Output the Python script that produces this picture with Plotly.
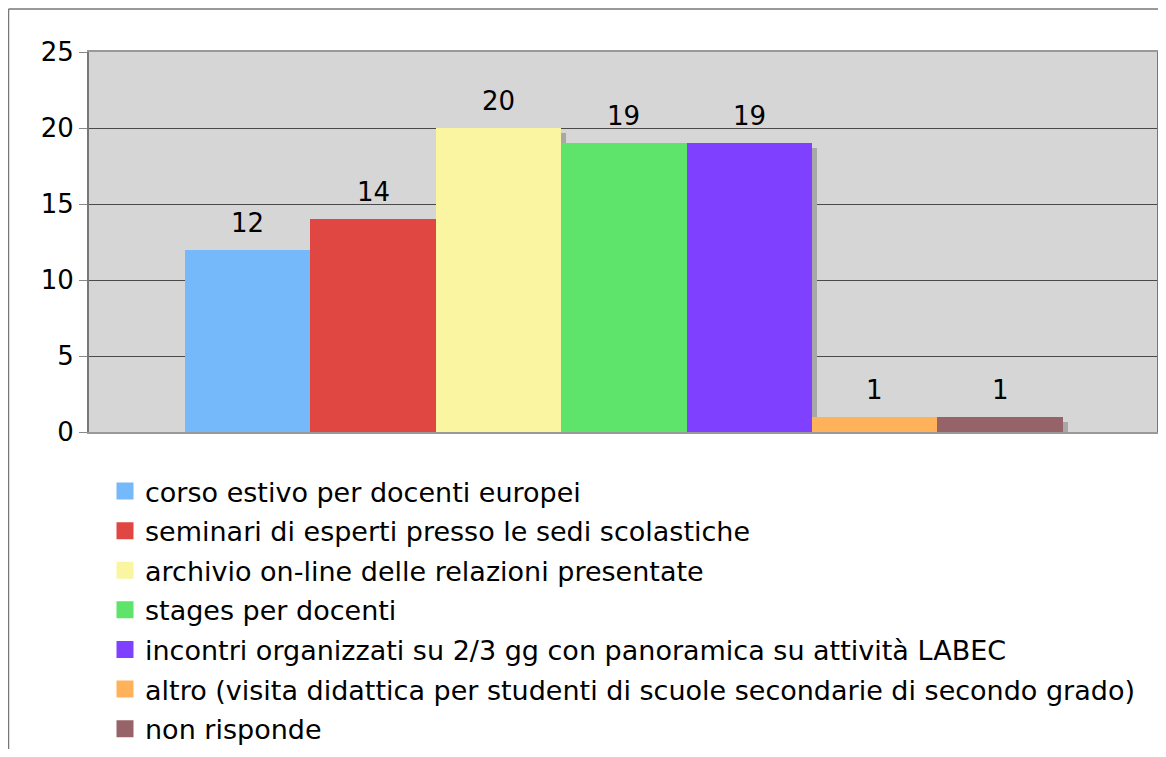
import plotly.graph_objects as go

categories = [
    "corso estivo per docenti europei",
    "seminari di esperti presso le sedi scolastiche",
    "archivio on-line delle relazioni presentate",
    "stages per docenti",
    "incontri organizzati su 2/3 gg con panoramica su attività LABEC",
    "altro (visita didattica per studenti di scuole secondarie di secondo grado)",
    "non risponde",
]
values = [12, 14, 20, 19, 19, 1, 1]
colors = ["#76B9FA", "#E04642", "#FAF5A0", "#5EE46A", "#8040FF", "#FFB25A", "#966468"]
y_ticks = [0, 5, 10, 15, 20, 25]

FONT = "DejaVu Sans, Verdana, sans-serif"
# page has an 8px body margin; figure sized to fit exactly
W, H = 1150, 741
ML, MR, MT, MB = 81, 1, 44, 317
plot_w = W - ML - MR
plot_h = H - MT - MB
bar_px = 125.4
units_w = plot_w / bar_px
left_units = (177 - ML) / bar_px
x_range = [-0.5 - left_units, -0.5 - left_units + units_w]
y_per_px = 25 / plot_h
x_per_px = 1 / bar_px
shadow_off = 5

fig = go.Figure()
xs = list(range(len(values)))

# shadows
fig.add_trace(go.Bar(
    x=[i + shadow_off * x_per_px for i in xs],
    y=[v - shadow_off * y_per_px for v in values],
    width=1, marker=dict(color="#A8A8A8", line=dict(width=0)),
    showlegend=False, hoverinfo="skip",
))
# bars
for i, (c, v, col) in enumerate(zip(categories, values, colors)):
    fig.add_trace(go.Bar(
        x=[i], y=[v], width=1, name=c,
        marker=dict(color=col, line=dict(width=0)),
        showlegend=False,
    ))
# legend entries
for i, (c, col) in enumerate(zip(categories, colors)):
    fig.add_trace(go.Bar(
        x=[None], y=[None], name=c, legendgroup=f"g{i}",
        marker=dict(color=col, line=dict(color=col, width=8)),
        showlegend=True,
    ))

for i, v in enumerate(values):
    fig.add_annotation(x=i, y=v, text=str(v), showarrow=False,
                       yanchor="bottom", yshift=10,
                       font=dict(family=FONT, size=26, color="#000000"))

border_x = (0.5 - ML) / plot_w
border_y = 1 + (MT - 1) / plot_h
fig.add_shape(type="line", xref="paper", yref="paper",
              x0=border_x, x1=1.2, y0=border_y, y1=border_y,
              line=dict(color="#777777", width=1.5))
fig.add_shape(type="line", xref="paper", yref="paper",
              x0=border_x, x1=border_x, y0=-1.2, y1=border_y,
              line=dict(color="#777777", width=1.5))

fig.update_layout(
    width=W, height=H,
    margin=dict(l=ML, r=MR, t=MT, b=MB, autoexpand=False),
    paper_bgcolor="white", plot_bgcolor="#D6D6D6",
    barmode="overlay", bargap=0,
    font=dict(family=FONT, size=26, color="#000000"),
    xaxis=dict(range=x_range, showticklabels=False, showgrid=False, zeroline=False,
               showline=True, linecolor="#999999", linewidth=2, mirror=True, ticks=""),
    yaxis=dict(range=[0, 25], tickvals=y_ticks, showgrid=True, gridcolor="#4A4A4A", gridwidth=1,
               zeroline=False, showline=True, linecolor="#777777", linewidth=2, mirror=True,
               ticks="outside", ticklen=8, tickcolor="#888888",
               tickfont=dict(family=FONT, size=26, color="#000000")),
    legend=dict(x=16 / plot_w, y=-35 / plot_h,
                xanchor="left", yanchor="top", tracegroupgap=1.5,
                font=dict(family=FONT, size=27, color="#000000"),
                bgcolor="rgba(0,0,0,0)"),
    showlegend=True,
)

fig.write_html("out.html")
